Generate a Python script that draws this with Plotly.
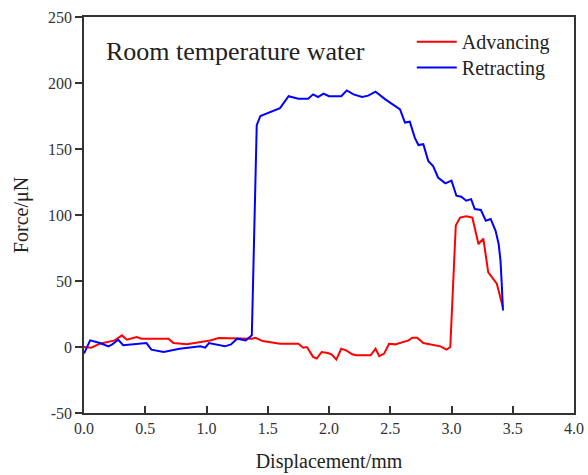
import plotly.graph_objects as go

# Retracting (blue)
blue_x = [0.0, 0.05, 0.13, 0.2, 0.23, 0.28, 0.32, 0.51, 0.55, 0.65, 0.78, 0.95, 0.99, 1.02, 1.15, 1.2, 1.25,
          1.32, 1.37, 1.39, 1.41, 1.44, 1.60, 1.67, 1.75, 1.83, 1.87, 1.91, 1.955, 2.0, 2.10, 2.145, 2.2, 2.27,
          2.32, 2.38, 2.46, 2.58, 2.62, 2.66, 2.70, 2.73, 2.77, 2.81, 2.85, 2.89, 2.95, 3.0, 3.04, 3.08, 3.12,
          3.16, 3.19, 3.24, 3.28, 3.32, 3.36, 3.385, 3.40, 3.41, 3.42]
blue_y = [-5, 5, 3, 0.5, 2, 5.5, 1.3, 3, -2, -3.7, -1.3, 0.5, -0.5, 3, 0.5, 2, 6.3,
          5, 8.8, 88, 168, 175, 181, 190, 188, 188, 191.4, 189.4, 192, 190, 190, 194.4, 191.4, 189.4,
          190.4, 193.4, 187.6, 180, 170, 170.7, 158.6, 153, 153.6, 141, 137, 128.4, 124, 126, 114.6, 113.8, 110.8,
          112, 104.5, 103.8, 95.7, 97, 88, 78, 65.5, 48, 27.7]

# Advancing (red)
red_x = [0.0, 0.06, 0.13, 0.25, 0.31, 0.35, 0.43, 0.47, 0.69, 0.73, 0.84, 0.95, 1.03, 1.10, 1.37, 1.40, 1.46,
         1.60, 1.75, 1.79, 1.82, 1.87, 1.90, 1.94, 1.99, 2.02, 2.06, 2.10, 2.14, 2.19, 2.22, 2.34, 2.38, 2.41,
         2.45, 2.49, 2.54, 2.65, 2.68, 2.72, 2.77, 2.91, 2.96, 2.99, 3.02, 3.035, 3.07, 3.12, 3.17, 3.22, 3.26,
         3.30, 3.37, 3.42]
red_y = [0, -0.5, 2.5, 5, 8.8, 5.5, 7.6, 6.3, 6.3, 3, 2, 3.8, 5, 6.8, 6.3, 7, 4.5,
         2.5, 2.5, -0.5, 0, -7.5, -8.8, -3.8, -4.5, -5.5, -9.5, -1.3, -2.5, -5.5, -6.3, -6.3, -1.3, -7,
         -5, 2.5, 2, 5, 7, 7, 3, 0.5, -2, 0, 60, 92, 98, 99, 98, 78, 82,
         56.6, 48, 30]

x_ticks = [0.0, 0.5, 1.0, 1.5, 2.0, 2.5, 3.0, 3.5, 4.0]
x_labels = ["0.0", "0.5", "1.0", "1.5", "2.0", "2.5", "3.0", "3.5", "4.0"]
y_ticks = [-50, 0, 50, 100, 150, 200, 250]
y_labels = ["-50", "0", "50", "100", "150", "200", "250"]

FONT = "Liberation Serif, Times New Roman, serif"
TXT = "#222222"
AX = "#333333"

fig = go.Figure()
fig.add_trace(go.Scatter(x=red_x, y=red_y, mode="lines", name="Advancing", legend="legend",
                         line=dict(color="#FF0000", width=2)))
fig.add_trace(go.Scatter(x=blue_x, y=blue_y, mode="lines", name="Retracting", legend="legend2",
                         line=dict(color="#0000FF", width=2)))

leg_common = dict(xanchor="left", yanchor="top", font=dict(family=FONT, size=20, color=TXT),
                  bgcolor="rgba(0,0,0,0)", itemwidth=40)
fig.update_layout(
    width=588, height=475,
    margin=dict(l=84, r=14, t=17, b=62, autoexpand=False),
    paper_bgcolor="white", plot_bgcolor="white",
    font=dict(family=FONT, color=TXT, size=16),
    showlegend=True,
    legend=dict(x=0.669, y=0.987, **leg_common),
    legend2=dict(x=0.669, y=0.922, **leg_common),
    annotations=[dict(text="Room temperature water", xref="paper", yref="paper",
                      x=0.040, y=0.912, xanchor="left", yanchor="middle", showarrow=False,
                      font=dict(family=FONT, size=26, color=TXT))],
)
fig.update_xaxes(range=[0, 4], tickvals=x_ticks, ticktext=x_labels, automargin=False,
                 ticks="inside", ticklen=7, tickwidth=1.5, tickcolor=AX,
                 showline=True, linecolor=AX, linewidth=1.5, mirror=True,
                 showgrid=False, zeroline=False,
                 title=dict(text="Displacement/mm", font=dict(family=FONT, size=20, color=TXT), standoff=18),
                 tickfont=dict(family=FONT, size=16, color=AX))
fig.update_yaxes(range=[-50, 250], tickvals=y_ticks, ticktext=y_labels, automargin=False,
                 ticks="outside", ticklen=7, tickwidth=1.5, tickcolor=AX,
                 showline=True, linecolor=AX, linewidth=1.5, mirror=True,
                 showgrid=False, zeroline=False,
                 title=dict(text="Force/μN", font=dict(family=FONT, size=20, color=TXT), standoff=14),
                 tickfont=dict(family=FONT, size=16, color=AX))

fig.write_html("out.html")
